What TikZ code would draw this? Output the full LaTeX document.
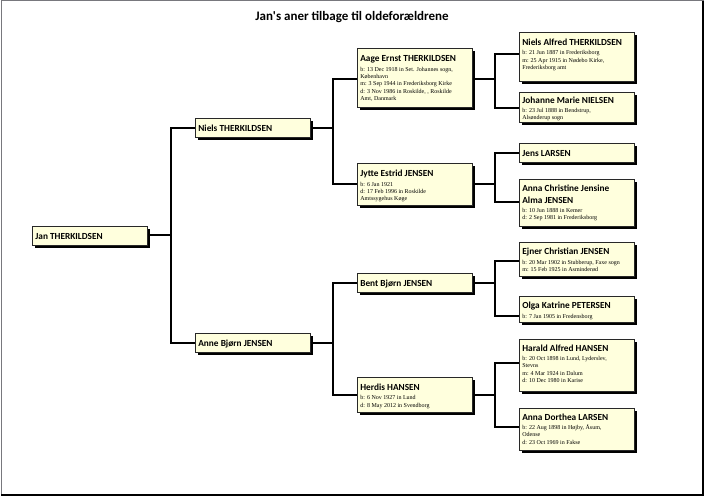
\documentclass[tikz,border=0pt]{standalone}
\usepackage{fontspec}
\setmainfont{Liberation Serif}
\newfontfamily\calib{Carlito}
\usetikzlibrary{shadows}
\definecolor{boxfill}{RGB}{255,255,221}
\definecolor{boxline}{RGB}{40,40,40}
\definecolor{framegray}{RGB}{120,120,125}
\newcommand{\namefont}{\calib\bfseries\fontsize{9.3}{11.7}\selectfont}
\newcommand{\detfont}{\rmfamily\fontsize{6}{7.3}\selectfont}
\newcommand{\pinfo}[5][13pt]{\parbox[c][#2][t]{109pt}{\raggedright\hbadness=10000 {\namefont\rule{0pt}{#1}#3\par}\ifx\relax#4\relax\else\vspace{#5}{\detfont #4\par}\fi}}
\tikzset{
  person/.style={anchor=north west, draw=boxline, fill=boxfill, line width=0.7pt,
    inner xsep=3pt, inner ysep=0pt,
    general shadow={fill=black, shadow xshift=2.4pt, shadow yshift=-2.4pt}},
  conn/.style={draw=black, line width=1.3pt},
  titlefont/.style={font=\calib\bfseries\fontsize{13}{15}\selectfont}
}
\begin{document}
\begin{tikzpicture}[x=1pt,y=-1pt]
\useasboundingbox (0,0) rectangle (705,497);
% page frame
\draw[framegray, line width=1pt] (1,1) rectangle (703,495);
\draw[black, line width=1.6pt] (1,495) -- (703,495) -- (703,1);

\node[titlefont] (title) at (352,17) {Jan\textquotesingle s aner tilbage til oldeforældrene};

% junction x positions and connection levels
\coordinate (J1) at (171,0);
\coordinate (J2) at (333,0);
\coordinate (J3) at (495,0);
\coordinate (y-jan) at (0,235);
\coordinate (y-niels) at (0,128);
\coordinate (y-anne) at (0,343);
\coordinate (y-aage) at (0,79);
\coordinate (y-jytte) at (0,184);
\coordinate (y-bent) at (0,283);
\coordinate (y-herdis) at (0,395);
\coordinate (y-nielsA) at (0,54);
\coordinate (y-johanne) at (0,108);
\coordinate (y-jens) at (0,153);
\coordinate (y-annaC) at (0,202);
\coordinate (y-ejner) at (0,261);
\coordinate (y-olga) at (0,316);
\coordinate (y-harald) at (0,363);
\coordinate (y-annaD) at (0,427);

% generation 1
\node[person] (jan) at (32,226) {\pinfo{19pt}{Jan THERKILDSEN}{}{0pt}};
% generation 2
\node[person] (niels) at (195,118) {\pinfo{19pt}{Niels THERKILDSEN}{}{0pt}};
\node[person] (anne) at (195,333) {\pinfo{19pt}{Anne Bjørn JENSEN}{}{0pt}};
% generation 3
\node[person] (aage) at (357,48) {\pinfo{59pt}{Aage Ernst THERKILDSEN}{b: 13 Dec 1918 in Set. Johannes sogn,\\København\\m: 3 Sep 1944 in Frederiksborg Kirke\\d: 3 Nov 1986 in Roskilde, , Roskilde\\Amt, Danmark}{2.6pt}};
\node[person] (jytte) at (357,163) {\pinfo{42pt}{Jytte Estrid JENSEN}{b: 6 Jan 1921\\d: 17 Feb 1996 in Roskilde\\Amtssygehus Køge}{2.6pt}};
\node[person] (bent) at (357,273) {\pinfo{19pt}{Bent Bjørn JENSEN}{}{0pt}};
\node[person] (herdis) at (357,377) {\pinfo{35pt}{Herdis HANSEN}{b: 6 Nov 1927 in Lund\\d: 8 May 2012 in Svendborg}{2.2pt}};
% generation 4
\node[person] (nielsA) at (519,32) {\pinfo{49pt}{Niels Alfred THERKILDSEN}{b: 21 Jun 1887 in Frederiksborg\\m: 25 Apr 1915 in Nødebo Kirke,\\Frederiksborg amt}{2.2pt}};
\node[person] (johanne) at (519,92) {\pinfo[11.5pt]{30pt}{Johanne Marie NIELSEN}{b: 23 Jul 1888 in Bendstrup,\\Alsønderup sogn}{1.4pt}};
\node[person] (jens) at (519,143) {\pinfo{19pt}{Jens LARSEN}{}{0pt}};
\node[person] (annaC) at (519,179) {\pinfo[12pt]{47pt}{Anna Christine Jensine\\Alma JENSEN}{b: 10 Jun 1888 in Kemer\\d: 2 Sep 1981 in Frederiksborg}{2pt}};
\node[person] (ejner) at (519,242) {\pinfo[12.5pt]{34pt}{Ejner Christian JENSEN}{b: 20 Mar 1902 in Stubberup, Faxe sogn\\m: 15 Feb 1925 in Asminderød}{2pt}};
\node[person] (olga) at (519,296) {\pinfo[12.5pt]{26pt}{Olga Katrine PETERSEN}{b: 7 Jan 1905 in Fredensborg}{2pt}};
\node[person] (harald) at (519,339) {\pinfo[12pt]{52pt}{Harald Alfred HANSEN}{b: 20 Oct 1898 in Lund, Lyderslev,\\Stevns\\m: 4 Mar 1924 in Dalum\\d: 10 Dec 1980 in Karise}{2pt}};
\node[person] (annaD) at (519,408) {\pinfo[12pt]{42pt}{Anna Dorthea LARSEN}{b: 22 Aug 1898 in Højby, Åsum,\\Odense\\d: 23 Oct 1969 in Fakse}{2pt}};

% connectors
\draw[conn] (jan.east |- y-jan) -- (J1 |- y-jan);
\draw[conn] (niels.west |- y-niels) -| (J1 |- y-anne) -- (anne.west |- y-anne);

\draw[conn] (niels.east |- y-niels) -- (J2 |- y-niels);
\draw[conn] (aage.west |- y-aage) -| (J2 |- y-jytte) -- (jytte.west |- y-jytte);
\draw[conn] (anne.east |- y-anne) -- (J2 |- y-anne);
\draw[conn] (bent.west |- y-bent) -| (J2 |- y-herdis) -- (herdis.west |- y-herdis);

\draw[conn] (aage.east |- y-aage) -- (J3 |- y-aage);
\draw[conn] (nielsA.west |- y-nielsA) -| (J3 |- y-johanne) -- (johanne.west |- y-johanne);
\draw[conn] (jytte.east |- y-jytte) -- (J3 |- y-jytte);
\draw[conn] (jens.west |- y-jens) -| (J3 |- y-annaC) -- (annaC.west |- y-annaC);
\draw[conn] (bent.east |- y-bent) -- (J3 |- y-bent);
\draw[conn] (ejner.west |- y-ejner) -| (J3 |- y-olga) -- (olga.west |- y-olga);
\draw[conn] (herdis.east |- y-herdis) -- (J3 |- y-herdis);
\draw[conn] (harald.west |- y-harald) -| (J3 |- y-annaD) -- (annaD.west |- y-annaD);
\end{tikzpicture}
\end{document}
